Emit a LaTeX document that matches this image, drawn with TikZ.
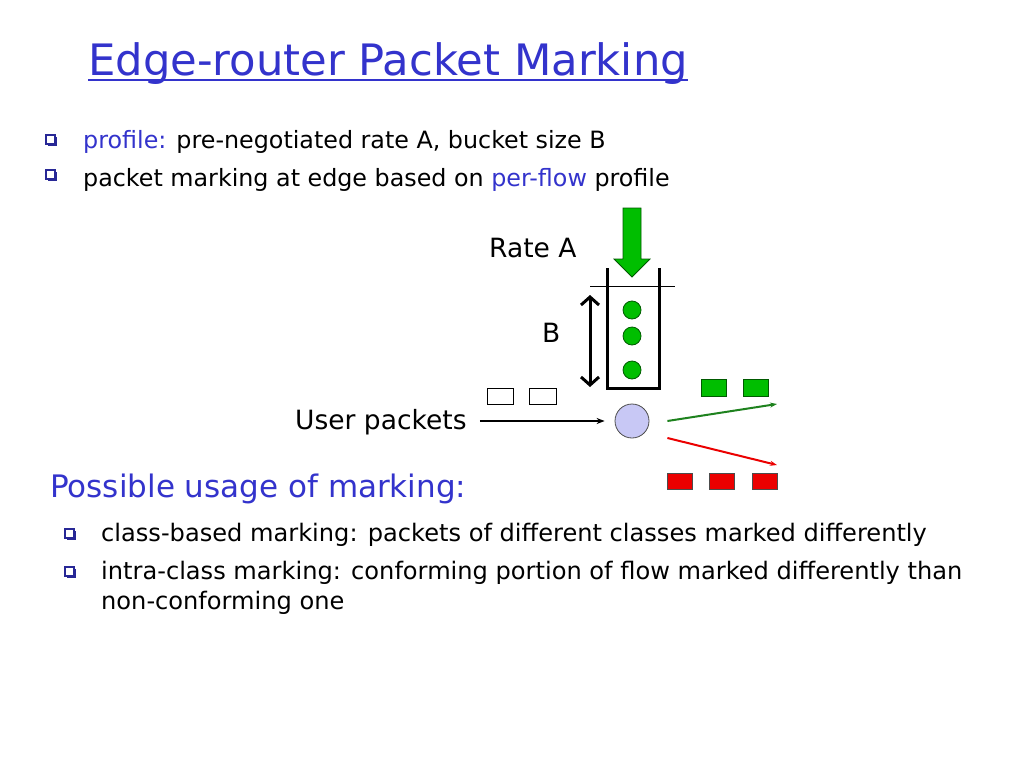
\documentclass[tikz,border=0pt]{standalone}
\usepackage{fontspec}
\setmainfont{DejaVu Sans}
\usetikzlibrary{arrows.meta}
\definecolor{tblue}{RGB}{51,51,204}
\definecolor{bulblue}{RGB}{40,40,150}
\definecolor{pgreen}{RGB}{0,190,0}
\definecolor{pgreendk}{RGB}{0,90,0}
\definecolor{lgreen}{RGB}{30,130,30}
\definecolor{pred}{RGB}{235,0,0}
\definecolor{routerfill}{RGB}{200,200,245}
\begin{document}
\begin{tikzpicture}[x=1pt,y=-1pt,
  txt/.style={anchor=base west,inner sep=0pt,font=\fontsize{24.1}{29}\selectfont},
  toptxt/.style={anchor=base west,inner sep=0pt,font=\fontsize{23.8}{29}\selectfont},
  lbl/.style={anchor=base west,inner sep=0pt,font=\fontsize{26.5}{31}\selectfont},
  bulsh/.style={fill=bulblue},
  bulbox/.style={fill=white,draw=bulblue,line width=1.2pt},
  pkt/.style={draw=black,line width=0.8pt},
  gpkt/.style={fill=pgreen,draw=pgreendk,line width=0.6pt},
  rpkt/.style={fill=pred,draw=black!70,line width=0.6pt},
  token/.style={circle,fill=pgreen,draw=pgreendk,line width=0.8pt,minimum size=18pt,inner sep=0pt},
  wall/.style={line width=3pt},
  outarrow/.style={line width=2pt,-{Stealth[length=7pt,width=5pt]}}
]
\useasboundingbox[fill=white] (0,0) rectangle (1024,768);
% title
\node[anchor=base west,inner sep=0pt,text=tblue,font=\fontsize{43.3}{50}\selectfont] (title) at (88,75) {Edge-router Packet Marking};
\draw[tblue,line width=2pt] ([yshift=-5pt]title.base west) -- ([yshift=-5pt]title.base east);
% bullets
\foreach \bx/\by in {46/135, 46/170, 65/529, 65/567}{
  \fill[bulsh] (\bx+2,\by+2) rectangle +(9,9);
  \draw[bulbox] (\bx,\by) rectangle +(9,9);
}
\node[toptxt] (l1) at (83,148) {\textcolor{tblue}{profile:} pre-negotiated rate A, bucket size B};
\node[toptxt] (l2) at (83,186) {packet marking at edge based on \textcolor{tblue}{per-flow} profile};
% diagram
\node[lbl] (rate) at (489,257) {Rate A};
\node[lbl] (bl) at (542,342) {B};
\node[lbl] (user) at (295,429) {User packets};
% green inflow arrow
\filldraw[fill=pgreen,draw=pgreendk,line width=0.8pt] (623,208) -- (641,208) -- (641,259) -- (650,259) -- (632,277) -- (614,259) -- (623,259) -- cycle;
% bucket
\draw[wall] (607,268) -- (607,388) -- (659,388) -- (659,268);
\draw[line width=0.8pt] (590,286) -- (675,286);
\node[token] (t1) at (632,310) {};
\node[token] (t2) at (632,336) {};
\node[token] (t3) at (632,370) {};
% B double arrow
\coordinate (btop) at (590,295);
\coordinate (bbot) at (590,387);
\draw[line width=3pt,{Straight Barb[length=8pt,width=18pt]}-{Straight Barb[length=8pt,width=18pt]}] (btop) -- (bbot);
% user packets
\draw[pkt] (487,388) rectangle (513,404);
\draw[pkt] (529,388) rectangle (556,404);
% router
\node[circle,fill=routerfill,draw=black!70,line width=0.8pt,minimum size=34pt,inner sep=0pt] (router) at (632,421) {};
\path ([xshift=13pt]user.east) coordinate (u0);
\draw[line width=1.5pt,-{Stealth[length=8pt,width=6pt]},shorten >=10pt] (u0 |- router.west) -- (router.west);
% outputs
\coordinate (gend) at (777,404);
\coordinate (rend) at (777,465);
\draw[outarrow,lgreen] ([xshift=18pt]router.east) -- (gend);
\draw[outarrow,pred] ([xshift=18pt,yshift=-17pt]router.east) -- (rend);
\draw[gpkt] (701,379) rectangle (726,396);
\draw[gpkt] (743,379) rectangle (768,396);
\draw[rpkt] (667,473) rectangle (692,489);
\draw[rpkt] (709,473) rectangle (734,489);
\draw[rpkt] (752,473) rectangle (777,489);
% lower section
\node[anchor=base west,inner sep=0pt,text=tblue,font=\fontsize{31}{36}\selectfont] (poss) at (50,497) {Possible usage of marking:};
\node[txt] (l3) at (101,541) {class-based marking: packets of different classes marked differently};
\node[txt] (l4) at (101,579) {intra-class marking: conforming portion of flow marked differently than};
\node[txt] (l5) at (101,609) {non-conforming one};
\end{tikzpicture}
\end{document}
